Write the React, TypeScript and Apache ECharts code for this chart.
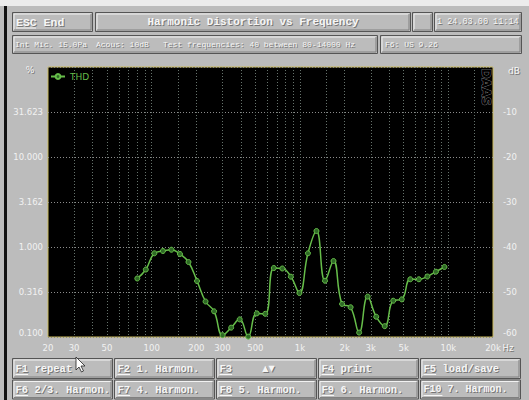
import React, { useEffect, useRef } from "react";
import * as echarts from "echarts";

// ---- data ----
const FREQ_HZ = [
  80, 91.33, 104.26, 119.03, 135.88, 155.12, 177.09, 202.16, 230.79, 263.47,
  300.78, 343.37, 392.0, 447.5, 510.9, 583.2, 665.8, 760.1, 867.7, 990.6,
  1130.9, 1291.0, 1473.8, 1682.5, 1920.8, 2192.8, 2503.3, 2857.8, 3262.5, 3724.5,
  4251.9, 4854.0, 5541.4, 6326.1, 7221.9, 8244.5, 9411.9,
];
const THD_PCT = [
  0.447, 0.562, 0.851, 0.903, 0.933, 0.836, 0.681, 0.419, 0.248, 0.193,
  0.105, 0.127, 0.157, 0.101, 0.183, 0.181, 0.584, 0.577, 0.468, 0.308,
  0.851, 1.506, 0.422, 0.699, 0.233, 0.214, 0.112, 0.281, 0.168, 0.132,
  0.253, 0.262, 0.438, 0.438, 0.47, 0.532, 0.6,
];
const X_LABEL_HZ = [20, 30, 50, 100, 200, 300, 500, 1000, 2000, 3000, 5000, 10000, 20000];
const X_LABEL_TEXT = ["20", "30", "50", "100", "200", "300", "500", "1k", "2k", "3k", "5k", "10k", "20k"];
const X_GRID_HZ = [
  30, 40, 50, 60, 70, 80, 90, 100, 150, 200, 300, 400, 500, 600, 700, 800, 900,
  1000, 1500, 2000, 3000, 4000, 5000, 6000, 7000, 8000, 9000, 10000, 15000,
];
const HEADER_TITLE = "Harmonic Distortion vs Frequency";
const HEADER_DATE = "1 24.03.00 11:14";
const INFO_TEXTS = ["Int Mic. 15.0Pa", "Acous: 10dB", "Test frequencies: 40 between 80-14000 Hz"];
const INFO_RIGHT = "F6: US 9.26";
const BUTTONS_ROW1 = [
  ["F1", "repeat"],
  ["F2", "1. Harmon."],
  ["F3", ""],
  ["F4", "print"],
  ["F5", "load/save"],
];
const BUTTONS_ROW2 = [
  ["F6", "2/3. Harmon."],
  ["F7", "4. Harmon."],
  ["F8", "5. Harmon."],
  ["F9", "6. Harmon."],
  ["F10", "7. Harmon."],
];

const BG = "#bcbcbc";
const GREEN = "#66bd4a";
const MONO = '"Liberation Mono", "DejaVu Sans Mono", monospace';
const SANS = '"DejaVu Sans", "Liberation Sans", sans-serif';

function txt(x: number, y: number, text: string, size: number, opts: any = {}) {
  const font = `${opts.bold ? "bold " : ""}${size}px ${opts.family || MONO}`;
  const align = opts.align || "left";
  return [
    {
      type: "text", x: x + 1, y: y + 1, z: 5,
      style: { text, font, fill: "#767676", textAlign: align, textVerticalAlign: "middle" },
    },
    {
      type: "text", x, y, z: 6,
      style: { text, font, fill: opts.color || "#f6f6f6", textAlign: align, textVerticalAlign: "middle" },
    },
  ];
}

function bevel(x: number, y: number, w: number, h: number) {
  return [
    { type: "rect", z: 1, shape: { x, y, width: w, height: h }, style: { fill: BG, stroke: "#555", lineWidth: 1 } },
    { type: "polyline", z: 2, shape: { points: [[x + 1.5, y + h - 1.5], [x + 1.5, y + 1.5], [x + w - 1.5, y + 1.5]] }, style: { stroke: "#f2f2f2", fill: null, lineWidth: 1 } },
    { type: "polyline", z: 2, shape: { points: [[x + 1.5, y + h - 1.5], [x + w - 1.5, y + h - 1.5], [x + w - 1.5, y + 1.5]] }, style: { stroke: "#808080", fill: null, lineWidth: 1 } },
  ];
}

function buildGraphics() {
  const g: any[] = [];
  g.push({ type: "rect", z: 0, shape: { x: 0, y: 0, width: 529, height: 6 }, style: { fill: "#ececec" } });
  g.push({ type: "rect", z: 0, shape: { x: 4, y: 6, width: 3, height: 394 }, style: { fill: "#111" } });
  // header row 1
  g.push(...bevel(12.5, 12.5, 80, 19));
  g.push(...bevel(95.5, 12.5, 315, 19));
  g.push(...bevel(412.5, 12.5, 20, 19));
  g.push(...bevel(434.5, 12.5, 87, 19));
  g.push(...txt(16, 22, "ESC End", 11.5, { bold: true }));
  g.push({ type: "line", z: 6, shape: { x1: 16, y1: 28, x2: 36, y2: 28 }, style: { stroke: "#f6f6f6", lineWidth: 1 } });
  g.push(...txt(253, 22, HEADER_TITLE, 11, { bold: true, align: "center" }));
  g.push(...txt(437, 22, HEADER_DATE, 8.5, {}));
  // header row 2
  g.push(...bevel(12.5, 35.5, 365, 18));
  g.push(...bevel(380.5, 35.5, 141, 18));
  g.push(...txt(15, 44.5, INFO_TEXTS[0], 8));
  g.push(...txt(96, 44.5, INFO_TEXTS[1], 8));
  g.push(...txt(163, 44.5, INFO_TEXTS[2], 8));
  g.push(...txt(385, 44.5, INFO_RIGHT, 8));
  // buttons
  const colX = [12.5, 114.5, 216.5, 318.5, 420.5];
  const charW = 6.3;
  [BUTTONS_ROW1, BUTTONS_ROW2].forEach((row, r) => {
    const y = r === 0 ? 358.5 : 380;
    const h = r === 0 ? 20 : 19;
    row.forEach((b, i) => {
      const x = colX[i];
      g.push(...bevel(x, y, 100, h));
      const key = b[0];
      const s = b[1] ? `${key} ${b[1]}` : key;
      g.push(...txt(x + 3, y + h / 2, s, key.length > 2 ? 10 : 10.5, { bold: true }));
      g.push({ type: "line", z: 6, shape: { x1: x + 3, y1: y + h / 2 + 6, x2: x + 3 + key.length * charW, y2: y + h / 2 + 6 }, style: { stroke: "#f6f6f6", lineWidth: 1 } });
      if (key === "F3") {
        g.push(...txt(x + 52, y + h / 2, "▲▼", 8, { family: SANS, align: "center" }));
      }
    });
  });
  // mouse cursor
  g.push({
    type: "polygon", z: 8,
    shape: { points: [[76, 357], [76, 370], [79, 367], [81.5, 372], [83.5, 371], [81, 366], [85, 366]] },
    style: { fill: "#ffffff", stroke: "#222", lineWidth: 0.8 },
  });
  // axis captions
  g.push(...txt(30, 70, "%", 9, { family: SANS, align: "center" }));
  g.push(...txt(514, 71, "dB", 9, { family: SANS, align: "center" }));
  g.push(...txt(508, 347.5, "Hz", 8.5, { family: SANS, align: "center" }));
  // DAAS logo
  g.push({
    type: "text", x: 486, y: 87, z: 10, rotation: -Math.PI / 2,
    style: { text: "DAAS", font: `bold 12px ${SANS}`, fill: "#000", stroke: "#8d8d8d", lineWidth: 0.8, textAlign: "center", textVerticalAlign: "middle" },
  });
  return g;
}

export default function App() {
  const ref = useRef<HTMLDivElement>(null);
  useEffect(() => {
    if (!ref.current) return;
    const chart = echarts.init(ref.current, undefined, { renderer: "svg" });
    const lg = (v: number) => Math.log10(v);
    const labelColor = "#f2f2f2";
    const axisTextShadow = { textShadowColor: "#7a7a7a", textShadowOffsetX: 1, textShadowOffsetY: 1, textShadowBlur: 0 };
    chart.setOption({
      animation: false,
      backgroundColor: BG,
      grid: {
        left: 48, right: 36, top: 67, bottom: 63, show: true,
        backgroundColor: "#000", borderColor: "#cbbb5c", borderWidth: 1,
      },
      legend: {
        data: ["THD"], left: 50, top: 72, padding: 0, itemWidth: 14, itemHeight: 6, itemGap: 4,
        textStyle: { color: GREEN, fontSize: 9, fontFamily: SANS },
      },
      xAxis: {
        type: "value", min: lg(20), max: lg(20000),
        axisLine: { show: false },
        axisTick: { show: false, customValues: X_GRID_HZ.map(lg) },
        splitLine: { show: true, lineStyle: { color: "#66736c", type: [1, 2], width: 1 } },
        axisLabel: {
          customValues: X_LABEL_HZ.map(lg),
          formatter: (v: number) => {
            let best = 0;
            X_LABEL_HZ.forEach((f, i) => { if (Math.abs(lg(f) - v) < Math.abs(lg(X_LABEL_HZ[best]) - v)) best = i; });
            return X_LABEL_TEXT[best];
          },
          color: labelColor, fontSize: 8.5, fontFamily: SANS, margin: 6, ...axisTextShadow,
        },
      },
      yAxis: [
        {
          type: "value", min: -1, max: 2, interval: 0.5, position: "left",
          axisLine: { show: false }, axisTick: { show: false },
          splitLine: { show: true, lineStyle: { color: "#8c8c8c", type: [1, 2], width: 1 } },
          axisLabel: {
            formatter: (v: number) => (v >= 2 ? "" : Math.pow(10, v).toFixed(3)),
            color: labelColor, fontSize: 8.5, fontFamily: SANS, margin: 5,
            verticalAlignMinLabel: "bottom", ...axisTextShadow,
          },
        },
        {
          type: "value", min: -60, max: 0, interval: 10, position: "right",
          axisLine: { show: false }, axisTick: { show: false }, splitLine: { show: false },
          axisLabel: {
            formatter: (v: number) => (v === 0 ? "" : String(v)),
            color: labelColor, fontSize: 8.5, fontFamily: SANS, margin: 10,
            verticalAlignMinLabel: "bottom", ...axisTextShadow,
          },
        },
      ],
      series: [
        {
          type: "line", name: "THD", yAxisIndex: 0,
          data: FREQ_HZ.map((f, i) => [lg(f), lg(THD_PCT[i])]),
          smooth: 0.45, symbol: "circle", symbolSize: 5,
          lineStyle: { color: GREEN, width: 1.5 },
          itemStyle: { color: "#2f6a26", borderColor: GREEN, borderWidth: 1 },
          z: 3,
        },
      ],
      graphic: { elements: buildGraphics() },
    });
    return () => chart.dispose();
  }, []);
  return <div ref={ref} style={{ position: "absolute", left: 0, top: 0, width: 529, height: 400 }} />;
}
